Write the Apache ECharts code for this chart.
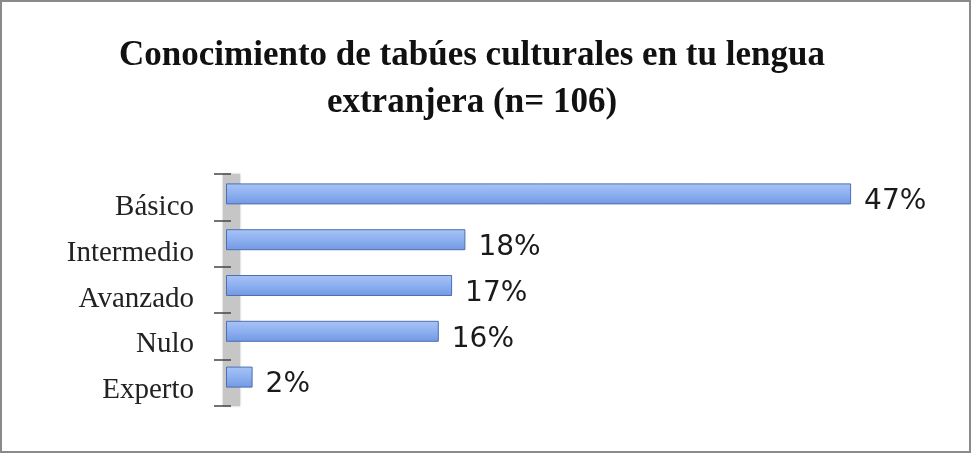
<!DOCTYPE html>
<html><head><meta charset="utf-8">
<script src="https://cdn.jsdelivr.net/npm/echarts@6/dist/echarts.min.js"></script>
<style>
html,body{margin:0;padding:0;background:#fff;}
#c{width:971px;height:453px;box-sizing:border-box;border:2px solid #8a8a8a;}
</style></head>
<body><div id="c"></div>
<script>
const categories = ['Básico','Intermedio','Avanzado','Nulo','Experto'];
const values = [47, 18, 17, 16, 2];
const titleText = 'Conocimiento de tabúes culturales en tu lengua\nextranjera (n= 106)';

const chart = echarts.init(document.getElementById('c'));
chart.setOption({
  animation:false,
  backgroundColor:'#fff',
  title:{
    text:titleText, left:470, textAlign:'center', top:30, padding:0,
    textStyle:{fontFamily:'Liberation Serif', fontWeight:'bold', fontSize:35, lineHeight:47, color:'#111'}
  },
  grid:[
    {left:224, right:78, top:169, bottom:51},
    {left:229, right:78, top:172, bottom:45}
  ],
  xAxis:[
    {type:'value', min:0, max:50, show:false, gridIndex:0},
    {type:'value', min:0, max:50, show:false, gridIndex:1}
  ],
  yAxis:[
    {
      type:'category', data:categories, inverse:true, gridIndex:0,
      axisLine:{show:false}, axisTick:{show:false},
      axisLabel:{margin:32, verticalAlign:'top', lineHeight:27, fontFamily:'Liberation Serif', fontSize:29, color:'#222'}
    },
    {
      type:'category', data:categories, inverse:true, gridIndex:1,
      axisLine:{show:true, lineStyle:{color:'#c6c6c6', width:17, cap:'butt', shadowColor:'rgba(0,0,0,0.3)', shadowBlur:2}},
      axisTick:{show:true, length:17, lineStyle:{color:'#444', width:1.5}},
      axisLabel:{show:false}
    }
  ],
  series:[{
    type:'bar', data:values, barWidth:21, xAxisIndex:0, yAxisIndex:0, z:5,
    itemStyle:{
      color:new echarts.graphic.LinearGradient(0,0,0,1,[
        {offset:0,color:'#a9c3f6'},{offset:0.5,color:'#8db0f0'},{offset:1,color:'#7398e2'}]),
      borderColor:'#4c6fb3', borderWidth:1
    },
    label:{show:true, position:'right', distance:13, offset:[0,8], formatter:'{c}%',
      fontFamily:'DejaVu Sans', fontSize:28, color:'#1a1a1a'}
  }]
});
</script></body></html>
